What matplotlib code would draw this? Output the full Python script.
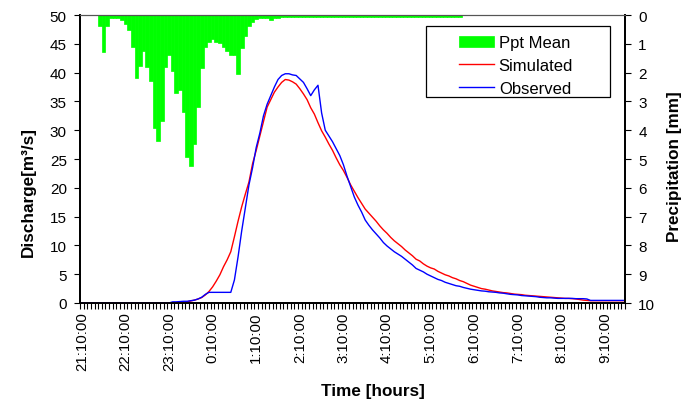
import numpy as np
import matplotlib.pyplot as plt

plt.rcParams['font.family'] = ['Liberation Sans', 'DejaVu Sans']

# 5-minute steps starting at 21:10:00 (150 steps)
tick_labels = ['21:10:00', '22:10:00', '23:10:00', '0:10:00', '1:10:00', '2:10:00',
               '3:10:00', '4:10:00', '5:10:00', '6:10:00', '7:10:00', '8:10:00', '9:10:00']

# precipitation [mm]
ppt = [0, 0, 0, 0, 0,
       0.39, 1.28, 0.39, 0.12, 0.12, 0.12, 0.19, 0.30, 0.53, 1.11,
       2.19, 1.78, 1.24, 1.81, 2.29, 3.92, 4.39, 3.69, 1.81, 1.40,
       1.96, 2.71, 2.59, 3.38, 4.94, 5.25, 4.47, 3.19, 1.84, 1.12,
       0.95, 0.83, 0.95, 0.97, 1.10, 1.25, 1.38, 1.40, 2.05, 1.15,
       0.74, 0.37, 0.25, 0.14, 0.09, 0.09, 0.09, 0.16, 0.09, 0.09,
       0.07, 0.07, 0.07, 0.07, 0.07, 0.07, 0.07, 0.07, 0.07, 0.07,
       0.07, 0.07, 0.07, 0.07, 0.07, 0.07, 0.07, 0.07, 0.07, 0.07,
       0.07, 0.07, 0.07, 0.07, 0.07, 0.07, 0.07, 0.07, 0.07, 0.07,
       0.07, 0.07, 0.07, 0.07, 0.07, 0.07, 0.07, 0.07, 0.07, 0.07,
       0.07, 0.07, 0.07, 0.07, 0.07, 0.07, 0.07, 0.07, 0.07, 0.07,
       0, 0, 0, 0, 0, 0, 0, 0, 0, 0,
       0, 0, 0, 0, 0, 0, 0, 0, 0, 0,
       0, 0, 0, 0, 0, 0, 0, 0, 0, 0,
       0, 0, 0, 0, 0, 0, 0, 0, 0, 0,
       0, 0, 0, 0, 0]

# simulated discharge [m3/s]
sim = [0, 0, 0, 0, 0, 0, 0, 0, 0, 0,
       0, 0, 0, 0, 0, 0, 0, 0, 0, 0,
       0, 0, 0, 0, 0, 0, 0, 0.05, 0.1, 0.2,
       0.35, 0.5, 0.7, 0.95, 1.4, 2.0, 2.8, 3.8, 4.9, 6.3,
       7.5, 8.9, 11.5, 14.2, 16.7, 18.9, 21.0, 24.2, 26.5, 29.0,
       31.5, 34.0, 35.3, 36.6, 37.5, 38.3, 38.8, 38.7, 38.4, 38.0,
       37.2, 36.3, 35.3, 33.9, 32.8, 31.3, 29.9, 28.8, 27.6, 26.5,
       25.2, 24.0, 23.0, 21.8, 20.5, 19.4, 18.3, 17.3, 16.3, 15.6,
       14.9, 14.2, 13.4, 12.7, 12.1, 11.4, 10.8, 10.3, 9.8, 9.2,
       8.7, 8.2, 7.6, 7.3, 6.8, 6.4, 6.1, 5.9, 5.5, 5.2,
       4.9, 4.7, 4.4, 4.2, 3.9, 3.7, 3.4, 3.1, 2.9, 2.7,
       2.5, 2.4, 2.25, 2.1, 2.0, 1.9, 1.8, 1.75, 1.65, 1.55,
       1.5, 1.45, 1.35, 1.3, 1.25, 1.2, 1.15, 1.1, 1.05, 1.0,
       0.95, 0.9, 0.85, 0.8, 0.8, 0.75, 0.7, 0.6, 0.5, 0.45,
       0.4, 0.4, 0.4, 0.4, 0.4, 0.4, 0.4, 0.4, 0.4, 0.4]

# observed discharge [m3/s]
obs = [0, 0, 0, 0, 0, 0, 0, 0, 0, 0,
       0, 0, 0, 0, 0, 0, 0, 0, 0, 0,
       0, 0, 0, 0, 0, 0.2, 0.2, 0.25, 0.3, 0.3,
       0.4, 0.5, 0.7, 1.0, 1.5, 1.85, 1.85, 1.85, 1.85, 1.85,
       1.85, 1.85, 4.0, 8.0, 12.5, 16.5, 20.5, 23.5, 27.0, 29.5,
       32.5, 34.5, 36.0, 37.5, 38.8, 39.5, 39.8, 39.8, 39.6, 39.5,
       38.9, 38.3, 37.2, 36.0, 37.0, 37.8, 33.0, 30.0, 29.0, 28.0,
       26.8, 25.6, 24.0, 22.0, 20.2, 18.4, 17.0, 15.8, 14.4, 13.5,
       12.7, 12.0, 11.3, 10.5, 9.9, 9.4, 8.9, 8.5, 8.1, 7.6,
       7.1, 6.6, 6.0, 5.7, 5.4, 5.0, 4.7, 4.4, 4.1, 3.9,
       3.6, 3.4, 3.2, 3.0, 2.9, 2.7, 2.55, 2.4, 2.3, 2.2,
       2.1, 2.05, 1.95, 1.9, 1.85, 1.75, 1.7, 1.6, 1.5, 1.45,
       1.4, 1.3, 1.25, 1.2, 1.15, 1.1, 1.0, 0.95, 0.9, 0.9,
       0.85, 0.8, 0.8, 0.8, 0.8, 0.8, 0.75, 0.75, 0.75, 0.7,
       0.45, 0.45, 0.45, 0.45, 0.45, 0.45, 0.45, 0.45, 0.45, 0.45]

n = len(sim)
x = np.arange(n)

W, H = 688, 402
fig = plt.figure(figsize=(W / 100, H / 100), dpi=100)
ax = fig.add_axes([80 / W, 1 - 304 / H, 545 / W, 288 / H])
ax2 = ax.twinx()

# precipitation hanging from the top
bars = ax2.bar(x, ppt, width=1.0, color='#00ff00', edgecolor='#00ff00',
               linewidth=0.5, label='Ppt Mean')
ax2.set_ylim(10, 0)
ax2.set_yticks(np.arange(0, 11, 1))

ax.set_zorder(ax2.get_zorder() + 1)
ax.patch.set_visible(False)
l_sim, = ax.plot(x, sim, color='#ff0000', lw=1.0, label='Simulated')
l_obs, = ax.plot(x, obs, color='#0000ff', lw=1.0, label='Observed')

ax.set_xlim(-0.5, n - 0.5)
ax.set_ylim(0, 50)
ax.set_yticks(np.arange(0, 51, 5))

ax.set_xticks(np.arange(0, n, 12))
ax.set_xticklabels(tick_labels, rotation=90)
ax.set_xticks(np.arange(-0.5, n, 1), minor=True)
ax.tick_params(axis='x', which='major', length=0, pad=6, labelsize=10.8)
ax.tick_params(axis='x', which='minor', length=4, width=0.8, direction='out')
ax.tick_params(axis='y', length=4, width=0.8, labelsize=11, pad=5.5)
ax2.tick_params(axis='y', length=4, width=0.8, labelsize=11, pad=5.5)

for a in (ax, ax2):
    a.spines['top'].set_color('#555555')
    a.spines['left'].set_linewidth(1.3)
    a.spines['right'].set_linewidth(1.3)
    a.spines['bottom'].set_linewidth(1.3)

fig.text(373 / W, 1 - 392 / H, 'Time [hours]', fontweight='bold', fontsize=12.3,
         ha='center', va='center')
fig.text(28.5 / W, 1 - 192 / H, 'Discharge[m\u00b3/s]', fontweight='bold', fontsize=12.3,
         ha='center', va='center', rotation=90)
fig.text(675 / W, 1 - 167 / H, 'Precipitation [mm]', fontweight='bold', fontsize=12.3,
         ha='center', va='center', rotation=90)

# legend box drawn separately (Excel-style wide left padding)
ax.add_patch(plt.Rectangle((0.634, 0.715), 0.3385, 0.246, transform=ax.transAxes,
                           facecolor='white', edgecolor='black', lw=0.9, zorder=5))
leg = ax.legend([bars, l_sim, l_obs], ['Ppt Mean', 'Simulated', 'Observed'],
                loc='upper left', bbox_to_anchor=(0.695, 0.929), fontsize=12,
                frameon=False, borderpad=0, borderaxespad=0,
                handlelength=2.1, handletextpad=0.3, labelspacing=0.46)
leg.set_zorder(6)

fig.savefig('out.png', dpi=100)
